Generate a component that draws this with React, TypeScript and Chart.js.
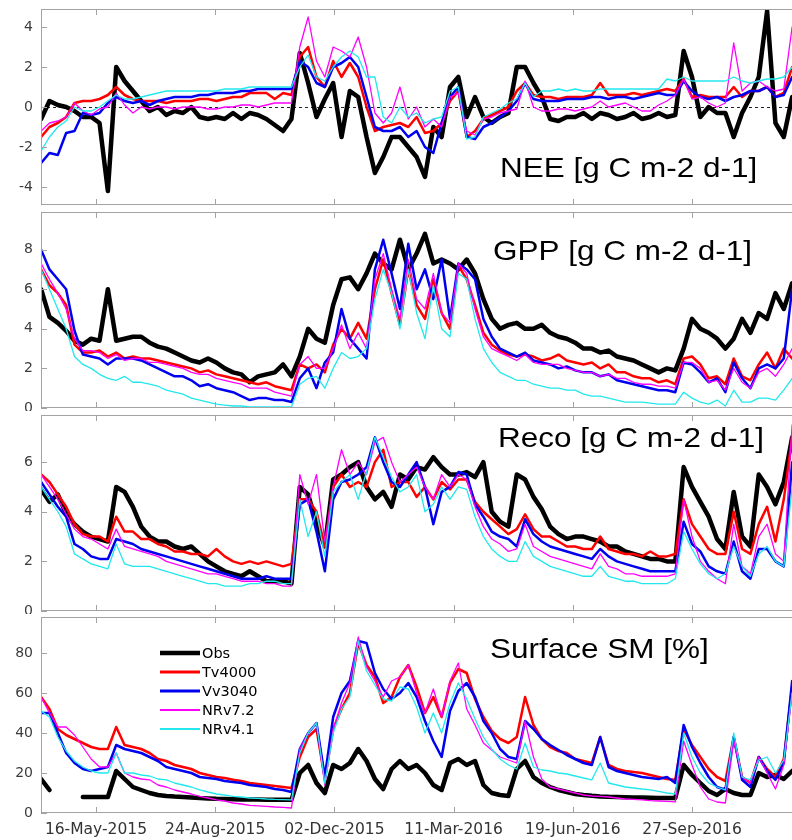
import React, { useEffect, useRef } from "react";
import { Chart, registerables } from "chart.js";

Chart.register(...registerables);

// Day offsets relative to 16-May-2015 (weekly samples)
const DAYS = [-46, -39, -32, -25, -18, -11, -4, 3, 10, 17, 24, 31, 38, 45, 52, 59, 66, 73, 80, 87, 94, 101, 108, 115, 122, 129, 136, 143, 150, 157, 164, 171, 178, 185, 192, 199, 206, 213, 220, 227, 234, 241, 248, 255, 262, 269, 276, 283, 290, 297, 304, 311, 318, 325, 332, 339, 346, 353, 360, 367, 374, 381, 388, 395, 402, 409, 416, 423, 430, 437, 444, 451, 458, 465, 472, 479, 486, 493, 500, 507, 514, 521, 528, 535, 542, 549, 556, 563, 570, 577, 584];

const X_TICK_DAYS = [0, 100, 200, 300, 400, 500];
const X_TICK_LABELS = ["16-May-2015", "24-Aug-2015", "02-Dec-2015", "11-Mar-2016", "19-Jun-2016", "27-Sep-2016"];
const X_MIN = -46.1;
const X_MAX = 590.6;

const SERIES_NAMES = ["Obs", "Tv4000", "Vv3040", "NRv7.2", "NRv4.1"];
const SERIES_COLORS = ["#000000", "#ff0000", "#0000f0", "#ff00ff", "#22e8ee"];
const SERIES_WIDTHS = [4.5, 2.5, 2.5, 1.3, 1.3];
const LEGEND_WIDTHS = [4.5, 3, 3, 2, 2];

const PANEL_TITLES = ["NEE [g C m-2 d-1]", "GPP [g C m-2 d-1]", "Reco [g C m-2 d-1]", "Surface SM [%]"];

const NEE_TICKS = [-4, -2, 0, 2, 4];
const GPP_TICKS = [0, 2, 4, 6, 8];
const RECO_TICKS = [0, 2, 4, 6];
const SM_TICKS = [0, 20, 40, 60, 80];

// ---- NEE ----
const NEE_OBS = [-0.6, 0.3, 0.1, 0.0, -0.2, -0.5, -0.5, -0.8, -4.2, 2.0, 1.3, 0.8, 0.3, -0.2, 0.0, -0.4, -0.2, -0.3, 0.0, -0.5, -0.6, -0.5, -0.6, -0.3, -0.6, -0.3, -0.4, -0.6, -0.9, -1.2, -0.6, 2.7, 1.2, -0.5, 0.4, 1.2, -1.5, 0.8, 0.5, -1.5, -3.3, -2.5, -1.5,
  -1.5, -2.0, -2.5, -3.5, -1.0, -1.5, 1.0, 1.5, -0.5, 0.5, -0.5, -0.8, -0.5, -0.3, 2.0, 2.0, 1.2, 0.5, -0.6, -0.7, -0.5, -0.5, -0.3, -0.6, -0.3, -0.4, -0.6, -0.5, -0.3, -0.6, -0.5, -0.3, -0.5, -0.4, 2.8, 1.5, -0.5, 0.0, -0.3, -0.3, -1.5, -0.3, 0.5, 1.5, 4.8, -0.8, -1.5, 0.5];
const NEE_TV = [-1.5, -1.0, -0.8, -0.5, 0.2, 0.3, 0.3, 0.4, 0.6, 1.0, 0.6, 0.4, 0.3, 0.3, 0.3, 0.2, 0.3, 0.3, 0.3, 0.4, 0.4, 0.3, 0.4, 0.5, 0.5, 0.7, 0.7, 0.7, 0.4, 0.7, 0.6, 2.5, 3.0, 1.5, 1.0, 2.3, 1.5, 2.2, 1.5, 0.0, -1.2, -1.0, -0.9,
  -0.8, -1.0, -0.5, -1.3, -1.2, -0.8, 0.3, 0.8, -1.5, -1.2, -0.6, -0.4, -0.2, 0.0, 0.8, 1.2, 0.6, 0.5, 0.5, 0.4, 0.5, 0.5, 0.5, 0.6, 1.2, 0.6, 0.6, 0.6, 0.7, 0.6, 0.7, 0.8, 0.9, 0.8, 1.4, 0.5, 0.6, 0.5, 0.5, 0.5, 1.0, 0.5, 0.8, 0.8, 1.0, 0.5, 0.7, 2.0];
const NEE_VV = [-2.8, -2.3, -2.4, -1.3, -1.2, -0.3, -0.4, -0.3, 0.2, 0.5, 0.3, 0.2, 0.3, 0.1, 0.3, 0.4, 0.5, 0.5, 0.5, 0.6, 0.6, 0.7, 0.7, 0.7, 0.8, 0.8, 0.9, 0.9, 0.9, 0.9, 0.9, 2.3, 2.0, 1.2, 1.0, 2.0, 2.2, 2.5, 2.0, 0.5, -1.0, -1.2, -1.2,
  -1.0, -1.5, -1.2, -2.0, -2.3, -0.8, 0.5, 1.0, -1.5, -1.6, -1.0, -0.8, -0.5, -0.2, 0.3, 1.2, 0.4, 0.3, 0.3, 0.3, 0.4, 0.4, 0.4, 0.5, 0.5, 0.4, 0.5, 0.5, 0.4, 0.5, 0.6, 0.7, 0.6, 0.6, 1.3, 0.8, 0.5, 0.4, 0.5, 0.3, 0.5, 0.6, 0.8, 0.8, 1.0, 0.5, 0.6, 1.5];
const NEE_NR72 = [-1.2, -0.8, -0.7, -0.5, 0.2, -0.2, -0.4, -0.1, 0.0, 0.7, 0.1, -0.3, 0.0, -0.1, 0.0, 0.0, -0.1, 0.0, 0.0, 0.0, -0.1, -0.1, 0.0, 0.0, 0.1, 0.1, 0.0, 0.1, 0.2, 0.2, 0.2, 3.0, 4.5, 2.3, 1.5, 3.0, 2.8, 2.5, 3.5, 2.0, -0.3, -0.8, -0.3,
  1.0, -0.6, 0.0, -1.0, -0.6, -1.0, 0.5, 0.7, -1.2, -1.4, -0.6, -0.5, -0.3, -0.2, -0.1, 1.3, 0.0, -0.2, -0.2, -0.1, -0.1, -0.2, -0.1, 0.0, 0.3, 0.0, 0.1, 0.2, 0.0, -0.2, -0.2, 0.1, 0.3, 0.6, 1.4, 0.4, 0.5, 0.2, 0.0, 0.2, 3.2, 0.8, 1.2, 1.3, 1.0, 0.8, 0.9, 4.0];
const NEE_NR41 = [-2.2, -1.5, -1.0, -0.7, 0.0, -0.2, -0.2, 0.0, 0.3, 0.6, 0.4, 0.4, 0.5, 0.6, 0.7, 0.8, 0.8, 0.8, 0.8, 0.8, 0.8, 0.8, 0.9, 0.9, 0.9, 1.0, 1.0, 1.0, 1.0, 1.0, 1.0, 2.0, 2.6, 1.5, 1.3, 2.0, 2.5, 2.8, 2.5, 1.5, 1.5, -0.5, -0.8,
  0.0, -0.5, -0.3, -0.8, -0.6, -0.5, 0.8, 1.0, -1.6, -1.5, -0.5, -0.3, -0.1, 0.2, 0.4, 1.2, 0.5, 0.8, 0.8, 0.9, 0.8, 0.9, 0.8, 0.8, 0.9, 0.9, 0.9, 0.9, 0.9, 0.9, 0.9, 0.9, 1.4, 1.3, 1.5, 1.3, 1.3, 1.3, 1.3, 1.3, 1.5, 1.3, 1.2, 1.3, 1.4, 1.4, 1.5, 2.0];

// ---- GPP ----
const GPP_OBS = [6.0, 4.6, 4.3, 3.9, 3.4, 3.2, 3.5, 3.4, 6.0, 3.4, 3.5, 3.6, 3.6, 3.3, 3.1, 3.0, 2.8, 2.6, 2.4, 2.3, 2.5, 2.3, 2.0, 1.8, 1.7, 1.3, 1.6, 1.7, 1.8, 2.2, 1.6, 2.6, 4.0, 3.5, 3.3, 5.2, 6.5, 6.6, 6.0, 6.8, 7.8, 7.3, 7.0,
  8.5, 7.0, 7.8, 8.8, 7.3, 7.5, 7.3, 7.0, 7.5, 6.8, 5.5, 4.5, 4.0, 4.2, 4.3, 4.0, 4.0, 4.2, 3.8, 3.6, 3.5, 3.3, 3.0, 3.0, 2.8, 2.9, 2.6, 2.5, 2.4, 2.2, 2.0, 1.8, 2.0, 1.9, 3.0, 4.5, 4.0, 3.8, 3.5, 3.0, 3.5, 4.5, 3.8, 4.8, 4.5, 5.8, 5.0, 6.3];
const GPP_TV = [7.0, 6.2, 5.8, 5.2, 3.2, 2.8, 2.8, 2.9, 2.6, 2.8, 2.5, 2.6, 2.5, 2.5, 2.4, 2.3, 2.2, 2.1, 2.0, 1.8, 1.9, 1.7, 1.6, 1.5, 1.4, 1.3, 1.2, 1.3, 1.1, 1.0, 0.9, 2.2, 2.0, 2.2, 1.8, 3.2, 4.0, 3.5, 4.3, 3.5, 6.0, 7.5, 5.8,
  4.2, 7.0, 5.2, 4.5, 6.5, 4.8, 4.0, 7.2, 6.5, 5.2, 3.8, 3.2, 2.9, 2.7, 2.6, 2.7, 2.6, 2.4, 2.5, 2.7, 2.4, 2.3, 2.2, 2.3, 2.0, 2.2, 1.8, 1.8, 1.6, 1.5, 1.5, 1.3, 1.4, 1.2, 2.5, 2.6, 2.2, 1.5, 1.6, 1.2, 2.5, 1.6, 1.4, 2.2, 2.8, 2.0, 3.0, 2.5];
const GPP_VV = [8.0, 7.0, 6.5, 6.0, 3.9, 2.7, 2.6, 2.5, 2.2, 2.5, 2.5, 2.5, 2.4, 2.2, 2.0, 1.8, 1.6, 1.6, 1.4, 1.1, 1.2, 1.0, 0.9, 0.8, 0.6, 0.4, 0.5, 0.5, 0.4, 0.4, 0.3, 1.5, 2.0, 1.0, 2.3, 2.8, 5.0, 3.5, 3.0, 2.5, 7.0, 8.5, 6.8,
  5.0, 8.3, 6.0, 7.0, 5.5, 7.5, 4.5, 7.3, 7.0, 6.5, 4.5, 3.6, 3.0, 2.8, 2.6, 2.8, 2.4, 2.3, 2.2, 2.0, 2.1, 1.9, 1.8, 1.8, 1.6, 1.7, 1.4, 1.3, 1.2, 1.1, 1.0, 0.9, 0.9, 0.8, 2.3, 2.2, 1.8, 1.3, 1.5, 0.8, 2.3, 1.5, 1.0, 2.0, 2.2, 2.0, 2.5, 6.0];
const GPP_NR72 = [7.3, 6.5, 5.8, 5.0, 3.5, 2.9, 2.9, 2.8, 2.5, 2.7, 2.4, 2.5, 2.5, 2.3, 2.3, 2.2, 2.1, 2.0, 1.8, 1.7, 1.7, 1.5, 1.4, 1.3, 1.2, 1.0, 1.0, 1.0, 0.8, 0.7, 0.6, 2.2, 2.6, 2.0, 2.0, 3.0, 4.2, 3.0, 3.8, 3.0, 6.5, 7.8, 6.0,
  4.5, 7.5, 5.5, 5.0, 6.8, 4.8, 4.3, 7.3, 6.8, 5.0, 3.6, 3.0, 2.8, 2.6, 2.4, 2.7, 2.3, 2.2, 2.2, 2.2, 2.0, 1.9, 1.8, 1.8, 1.6, 1.7, 1.5, 1.5, 1.3, 1.2, 1.2, 1.1, 1.1, 1.0, 2.3, 2.3, 2.0, 1.3, 1.4, 0.9, 2.0, 1.3, 1.0, 1.8, 2.0, 1.6, 2.2, 3.0];
const GPP_NR41 = [7.0, 6.0, 5.0, 4.0, 2.6, 2.2, 2.0, 1.7, 1.5, 1.4, 1.6, 1.3, 1.3, 1.2, 1.1, 0.9, 0.8, 0.7, 0.5, 0.4, 0.3, 0.2, 0.15, 0.1, 0.1, 0.05, 0.05, 0.05, 0.05, 0.05, 0.05, 1.2, 1.5, 1.6, 1.0, 2.0, 2.8, 2.5, 2.6, 3.0, 5.5, 7.0, 5.8,
  4.0, 7.0, 4.8, 3.5, 6.2, 4.0, 3.6, 6.8, 6.5, 4.5, 3.0, 2.3, 1.8, 1.6, 1.4, 1.4, 1.2, 1.1, 1.0, 1.0, 0.9, 0.9, 0.7, 0.6, 0.6, 0.5, 0.4, 0.3, 0.3, 0.3, 0.25, 0.2, 0.2, 0.2, 0.8, 0.5, 0.3, 0.2, 0.4, 0.1, 0.9, 0.3, 0.3, 0.5, 0.5, 0.4, 0.9, 1.5];

// ---- Reco ----
const RECO_OBS = [4.9, 4.4, 4.7, 3.9, 3.5, 3.2, 3.0, 2.9, 2.8, 5.0, 4.8, 4.2, 3.4, 3.0, 2.8, 2.8, 2.6, 2.5, 2.6, 2.3, 2.0, 1.8, 1.6, 1.5, 1.4, 1.6, 1.4, 1.2, 1.2, 1.2, 1.1, 5.0, 4.7, 3.5, 2.6, 5.3, 5.5, 5.8, 6.0, 5.0, 4.5, 4.8, 4.2,
  5.5, 5.3, 5.8, 5.7, 6.2, 5.8, 5.5, 5.5, 5.6, 5.4, 6.0, 4.0, 3.6, 3.4, 5.5, 5.3, 4.6, 4.1, 3.4, 3.1, 2.9, 3.0, 3.0, 2.9, 2.8, 2.6, 2.6, 2.4, 2.3, 2.2, 2.1, 2.1, 2.0, 2.0, 5.8, 5.0, 4.4, 3.8, 2.9, 2.5, 4.8, 3.0, 2.6, 5.5, 5.0, 4.3, 5.2, 7.0];
const RECO_TV = [5.5, 5.2, 4.7, 4.2, 3.5, 3.1, 3.0, 3.0, 2.8, 3.8, 3.2, 3.2, 2.9, 2.9, 2.7, 2.6, 2.4, 2.4, 2.3, 2.3, 2.2, 2.5, 2.2, 2.0, 1.9, 2.0, 1.9, 2.0, 1.9, 1.8, 1.9, 4.5, 4.5, 4.0, 2.6, 5.0, 5.5, 5.0, 5.2, 5.0, 6.0, 6.5, 5.0,
  5.2, 5.2, 4.6, 5.0, 4.5, 5.2, 4.9, 5.3, 5.3, 4.4, 4.0, 3.7, 3.4, 3.1, 3.3, 3.9, 3.3, 3.0, 3.0, 2.8, 2.6, 2.6, 2.5, 2.5, 3.0, 2.5, 2.4, 2.3, 2.3, 2.2, 2.4, 2.2, 2.2, 2.3, 4.5, 3.5, 3.0, 2.5, 2.3, 2.3, 4.0, 2.5, 2.3, 3.5, 4.2, 2.8, 4.5, 7.0];
const RECO_VV = [5.2, 4.7, 4.2, 3.8, 2.7, 2.5, 2.2, 2.1, 2.1, 2.9, 2.8, 2.7, 2.5, 2.4, 2.3, 2.2, 2.1, 2.0, 1.9, 1.8, 1.7, 1.6, 1.5, 1.4, 1.3, 1.3, 1.3, 1.4, 1.3, 1.3, 1.3, 4.3, 4.5, 3.2, 1.6, 4.5, 5.2, 5.3, 5.5, 5.8, 7.0, 6.0, 5.2,
  5.0, 5.5, 6.0, 5.0, 3.5, 4.8, 5.0, 5.6, 5.5, 4.3, 3.8, 3.2, 3.0, 2.9, 2.6, 3.7, 3.1, 2.8, 2.6, 2.5, 2.4, 2.3, 2.2, 2.1, 2.5, 2.2, 2.0, 1.9, 1.8, 1.7, 1.6, 1.6, 1.6, 1.6, 3.6, 2.7, 2.4, 1.8, 1.6, 1.5, 2.8, 1.6, 1.3, 2.5, 2.5, 2.0, 1.8, 6.0];
const RECO_NR72 = [5.5, 5.0, 4.5, 3.9, 3.3, 3.0, 2.9, 2.7, 2.5, 3.3, 2.6, 2.5, 2.4, 2.3, 2.2, 2.0, 1.9, 1.8, 1.7, 1.6, 1.5, 1.5, 1.4, 1.3, 1.2, 1.2, 1.2, 1.1, 1.1, 1.0, 1.0, 5.5, 4.3, 5.5, 2.8, 5.0, 6.5, 5.5, 6.0, 5.5, 6.8, 7.0, 6.0,
  5.2, 5.5, 5.8, 5.0, 4.5, 5.5, 5.0, 5.5, 5.3, 4.2, 3.4, 2.9, 2.7, 2.4, 2.5, 3.5, 2.6, 2.4, 2.2, 2.1, 2.0, 1.9, 1.8, 1.7, 2.3, 1.8, 1.7, 1.5, 1.5, 1.4, 1.4, 1.4, 1.4, 1.5, 4.5, 3.0, 2.0, 1.6, 1.3, 1.1, 3.5, 1.8, 1.5, 3.0, 3.5, 2.3, 2.0, 7.5];
const RECO_NR41 = [5.0, 4.5, 4.0, 3.4, 2.3, 2.1, 1.9, 1.8, 1.7, 2.7, 1.9, 1.8, 1.8, 1.8, 1.7, 1.6, 1.5, 1.4, 1.3, 1.2, 1.1, 1.1, 1.0, 1.0, 1.0, 1.1, 1.1, 1.2, 1.2, 1.1, 1.1, 4.5, 3.0, 4.0, 2.2, 4.8, 5.2, 5.5, 4.5, 5.6, 7.0, 6.2, 5.4,
  4.8, 5.0, 5.5, 4.0, 4.3, 5.0, 4.5, 5.0, 4.9, 3.8, 3.0, 2.5, 2.2, 2.0, 2.0, 2.8, 2.2, 2.0, 1.8, 1.7, 1.6, 1.5, 1.4, 1.4, 1.8, 1.4, 1.3, 1.2, 1.2, 1.1, 1.1, 1.1, 1.1, 1.3, 3.2, 2.5, 1.9, 1.5, 1.3, 1.5, 2.6, 1.8, 1.4, 2.3, 2.6, 2.0, 1.8, 5.0];

// ---- Surface SM ----
const SM_OBS = [17, 11.5, null, null, null, 8, 8, 8, 8, 21, 17, 13, 11.5, 10, 9, 8.5, 8.2, 8, 7.8, 7.5, 7.3, 7.1, 7, 6.9, 6.8, 6.7, 6.7, 6.6, 6.6, 6.6, 6.6, 20, 24, 15, 10, 24, 22, 25, 32, 26, 17, 12, 22,
  26, 22, 24, 20, 14, 11.5, 25, 27, 24, 26, 14, 10, 9, 8.5, 22, 26, 18, 15, 13, 11.5, 10.5, 9.5, 9, 8.6, 8.3, 8.1, 8.0, 7.9, 7.8, 7.7, 7.6, 7.5, 7.5, 7.5, 24, 19, 15, 11, 9, 12, 10, 9, 9, 20, 18, 19, 17, 21];
const SM_TV = [58, 52, 42, 39, 37, 35, 33, 32, 32, 43, 34, 33, 32, 30, 27, 26, 24, 23, 22, 20, 19, 18, 17.5, 16.6, 16, 15, 14.5, 14, 13.5, 13, 12.5, 28, 38, 42, 17, 42, 52, 60, 85, 74, 68, 55, 58,
  68, 74, 63, 50, 58, 48, 65, 72, 70, 57, 48, 41, 37, 35, 38, 58, 44, 37, 33, 31, 30, 27, 26, 25, 38, 24, 22, 21, 20.5, 20, 19, 18, 17, 16.6, 42, 34, 28, 22, 18, 16, 38, 18, 15, 28, 22, 18, 27, 63];
const SM_VV = [50, 50, 40, 30, 25, 22, 21, 22, 23, 34, 32, 31, 30, 28, 26, 23, 22, 21, 20, 18, 17.5, 17, 16, 15.5, 15, 14, 13.5, 13, 12, 11.5, 10.5, 32, 40, 45, 18, 48, 60, 66, 86, 85, 70, 62, 57,
  60, 65, 58, 46, 36, 28, 51, 61, 65, 58, 46, 40, 32, 28, 27, 46, 42, 37, 34, 31.5, 29, 27, 25, 24, 38, 23, 21, 20, 19, 18, 17.5, 17, 18, 15, 44, 33, 25, 18, 13, 11.6, 38, 16.6, 13, 28, 21, 16.6, 25, 66];
const SM_NR72 = [58, 50, 43, 43, 39, 33, 27, 23, 23, 30, 20, 18, 17, 16.6, 14, 13, 11.5, 10.5, 9.5, 8.3, 7.5, 6.6, 6, 5, 4.5, 3.8, 3.6, 3.3, 3, 2.8, 2.5, 32, 40, 45, 14, 42, 55, 65, 88, 73, 66, 58, 66,
  68, 74, 60, 50, 62, 48, 66, 75, 52, 44, 35, 31.5, 28, 26.5, 25, 46, 28, 17, 13, 12, 11, 10, 9, 8.5, 8.3, 8, 7.5, 7, 6.8, 6.6, 6.2, 6, 5.8, 5.6, 36, 24, 13, 7, 5.5, 5, 36, 18, 15, 28, 20, 12, 24, 60];
const SM_NR41 = [51, 48, 38, 31, 26, 23, 21, 20, 20, 30, 20, 20, 19, 18.5, 17, 16.6, 15, 14, 13, 11.6, 10.5, 9.5, 9, 8.3, 8, 7.5, 7.3, 7, 6.8, 6.7, 6.6, 30, 40, 45, 15, 40, 52, 58, 86, 71, 64, 57, 56,
  63, 62, 53, 40, 50, 40, 55, 65, 57, 47, 38, 32, 27, 24, 22, 35, 23, 21.5, 21, 20, 19.5, 18.5, 17.5, 16.6, 25, 15, 14, 13, 12.5, 12, 11.6, 10.8, 10, 9.5, 40, 28, 20, 15, 13, 11.6, 40, 18, 16.6, 26.5, 28, 20, 26.5, 60];

type Panel = {
  title: string;
  series: (number | null)[][];
  yMin: number;
  yMax: number;
  yTicks: number[];
  top: number;
  height: number;
  padTop: number;
  padBottom: number;
  showX: boolean;
  titleX: number;
  titleY: number;
  zeroLine: boolean;
  legend: boolean;
};

const PANELS: Panel[] = [
  { title: PANEL_TITLES[0], series: [NEE_OBS, NEE_TV, NEE_VV, NEE_NR72, NEE_NR41], yMin: -4.9, yMax: 4.9, yTicks: NEE_TICKS, top: 0, height: 209, padTop: 9, padBottom: 4, showX: false, titleX: 500, titleY: 177, zeroLine: true, legend: false },
  { title: PANEL_TITLES[1], series: [GPP_OBS, GPP_TV, GPP_VV, GPP_NR72, GPP_NR41], yMin: 0, yMax: 9.9, yTicks: GPP_TICKS, top: 209, height: 202, padTop: 3, padBottom: 3, showX: false, titleX: 493, titleY: 51, zeroLine: false, legend: false },
  { title: PANEL_TITLES[2], series: [RECO_OBS, RECO_TV, RECO_VV, RECO_NR72, RECO_NR41], yMin: 0, yMax: 7.9, yTicks: RECO_TICKS, top: 411, height: 203, padTop: 4, padBottom: 3, showX: false, titleX: 498, titleY: 36, zeroLine: false, legend: false },
  { title: PANEL_TITLES[3], series: [SM_OBS, SM_TV, SM_VV, SM_NR72, SM_NR41], yMin: 0, yMax: 98, yTicks: SM_TICKS, top: 614, height: 226, padTop: 3, padBottom: 0, showX: true, titleX: 490, titleY: 44, zeroLine: false, legend: true },
];

const FRAME = "#a3a3a3";

const panelPlugin = {
  id: "panelDeco",
  beforeDatasetsDraw(chart: any, _args: any, opts: any) {
    if (!opts.zeroLine) return;
    const { ctx, chartArea: a, scales } = chart;
    const y = Math.round(scales.y.getPixelForValue(0)) + 0.5;
    ctx.save();
    ctx.strokeStyle = "#222";
    ctx.lineWidth = 1;
    ctx.setLineDash([3, 3]);
    ctx.beginPath();
    ctx.moveTo(a.left, y);
    ctx.lineTo(a.right, y);
    ctx.stroke();
    ctx.restore();
  },
  afterDatasetsDraw(chart: any, _args: any, opts: any) {
    const { ctx, chartArea: a, scales } = chart;
    ctx.save();
    ctx.strokeStyle = FRAME;
    ctx.lineWidth = 1;
    ctx.strokeRect(a.left + 0.5, a.top + 0.5, a.right - a.left - 1, a.bottom - a.top - 1);
    ctx.beginPath();
    X_TICK_DAYS.forEach((d) => {
      const x = Math.round(scales.x.getPixelForValue(d)) + 0.5;
      ctx.moveTo(x, a.top);
      ctx.lineTo(x, a.top + 6);
      ctx.moveTo(x, a.bottom);
      ctx.lineTo(x, a.bottom - 6);
    });
    (opts.yTicks || []).forEach((v: number) => {
      const y = Math.round(scales.y.getPixelForValue(v)) + 0.5;
      ctx.moveTo(a.left, y);
      ctx.lineTo(a.left + 6, y);
    });
    ctx.stroke();

    // panel title
    ctx.fillStyle = "#000";
    ctx.font = '27.5px "Liberation Sans", Arial, sans-serif';
    ctx.textBaseline = "alphabetic";
    ctx.textAlign = "left";
    ctx.save();
    ctx.translate(opts.titleX, opts.titleY);
    ctx.scale(1.145, 1);
    ctx.fillText(opts.title, 0, 0);
    ctx.restore();

    if (opts.legend) {
      const ys = [39, 58, 77, 96, 115];
      ctx.font = '14.5px "DejaVu Sans", sans-serif';
      ctx.textBaseline = "middle";
      SERIES_NAMES.forEach((name, i) => {
        ctx.strokeStyle = SERIES_COLORS[i];
        ctx.lineWidth = LEGEND_WIDTHS[i];
        ctx.setLineDash([]);
        ctx.beginPath();
        ctx.moveTo(160, ys[i]);
        ctx.lineTo(200, ys[i]);
        ctx.stroke();
        ctx.fillStyle = "#000";
        ctx.fillText(name, 202, ys[i] + 1);
      });
    }
    ctx.restore();
  },
};

function PanelChart({ panel }: { panel: Panel }) {
  const ref = useRef<HTMLCanvasElement | null>(null);
  useEffect(() => {
    if (!ref.current) return;
    const datasets = panel.series.map((vals, i) => ({
      label: SERIES_NAMES[i],
      data: DAYS.map((d, k) => ({ x: d, y: vals[k] })),
      borderColor: SERIES_COLORS[i],
      backgroundColor: SERIES_COLORS[i],
      borderWidth: SERIES_WIDTHS[i],
      pointRadius: 0,
      tension: 0,
      fill: false,
      spanGaps: false,
      borderJoinStyle: "round" as const,
      borderCapStyle: "round" as const,
      clip: 0,
      order: 5 - i,
    }));
    const chart = new Chart(ref.current, {
      type: "line",
      data: { datasets },
      plugins: [panelPlugin],
      options: {
        animation: false,
        responsive: false,
        maintainAspectRatio: false,
        devicePixelRatio: 1,
        layout: { padding: { top: panel.padTop, bottom: panel.padBottom, left: 0, right: 0 } },
        plugins: {
          legend: { display: false },
          tooltip: { enabled: false },
          panelDeco: {
            title: panel.title,
            titleX: panel.titleX,
            titleY: panel.titleY,
            yTicks: panel.yTicks,
            zeroLine: panel.zeroLine,
            legend: panel.legend,
          },
        } as any,
        scales: {
          x: {
            type: "linear",
            min: X_MIN,
            max: X_MAX,
            display: panel.showX,
            grid: { display: false, drawTicks: false },
            border: { display: false },
            afterBuildTicks: (scale: any) => {
              scale.ticks = X_TICK_DAYS.map((v) => ({ value: v }));
            },
            afterFit: (scale: any) => {
              if (panel.showX) scale.height = 27;
              scale.paddingLeft = 0;
              scale.paddingRight = 0;
            },
            ticks: {
              autoSkip: false,
              maxRotation: 0,
              padding: 8,
              color: "#333",
              font: { family: '"DejaVu Sans", sans-serif', size: 15.5 },
              callback: (_v: any, idx: number) => X_TICK_LABELS[idx],
            },
          },
          y: {
            type: "linear",
            min: panel.yMin,
            max: panel.yMax,
            grid: { display: false, drawTicks: false },
            border: { display: false },
            afterBuildTicks: (scale: any) => {
              scale.ticks = panel.yTicks.map((v) => ({ value: v }));
            },
            afterFit: (scale: any) => {
              scale.width = 41;
              scale.paddingTop = 0;
              scale.paddingBottom = 0;
            },
            ticks: {
              padding: 8,
              color: "#3c3c3c",
              font: { family: '"DejaVu Sans", sans-serif', size: 14 },
              callback: (v: any) => String(v),
            },
          },
        },
      } as any,
    });
    return () => chart.destroy();
  }, [panel]);
  return (
    <canvas
      ref={ref}
      width={800}
      height={panel.height}
      style={{ position: "absolute", left: 0, top: panel.top, width: 800, height: panel.height }}
    />
  );
}

export default function App() {
  return (
    <div style={{ position: "absolute", left: 0, top: 0, width: 792, height: 840, overflow: "hidden", background: "#fff" }}>
      {PANELS.map((p, i) => (
        <PanelChart key={i} panel={p} />
      ))}
    </div>
  );
}
